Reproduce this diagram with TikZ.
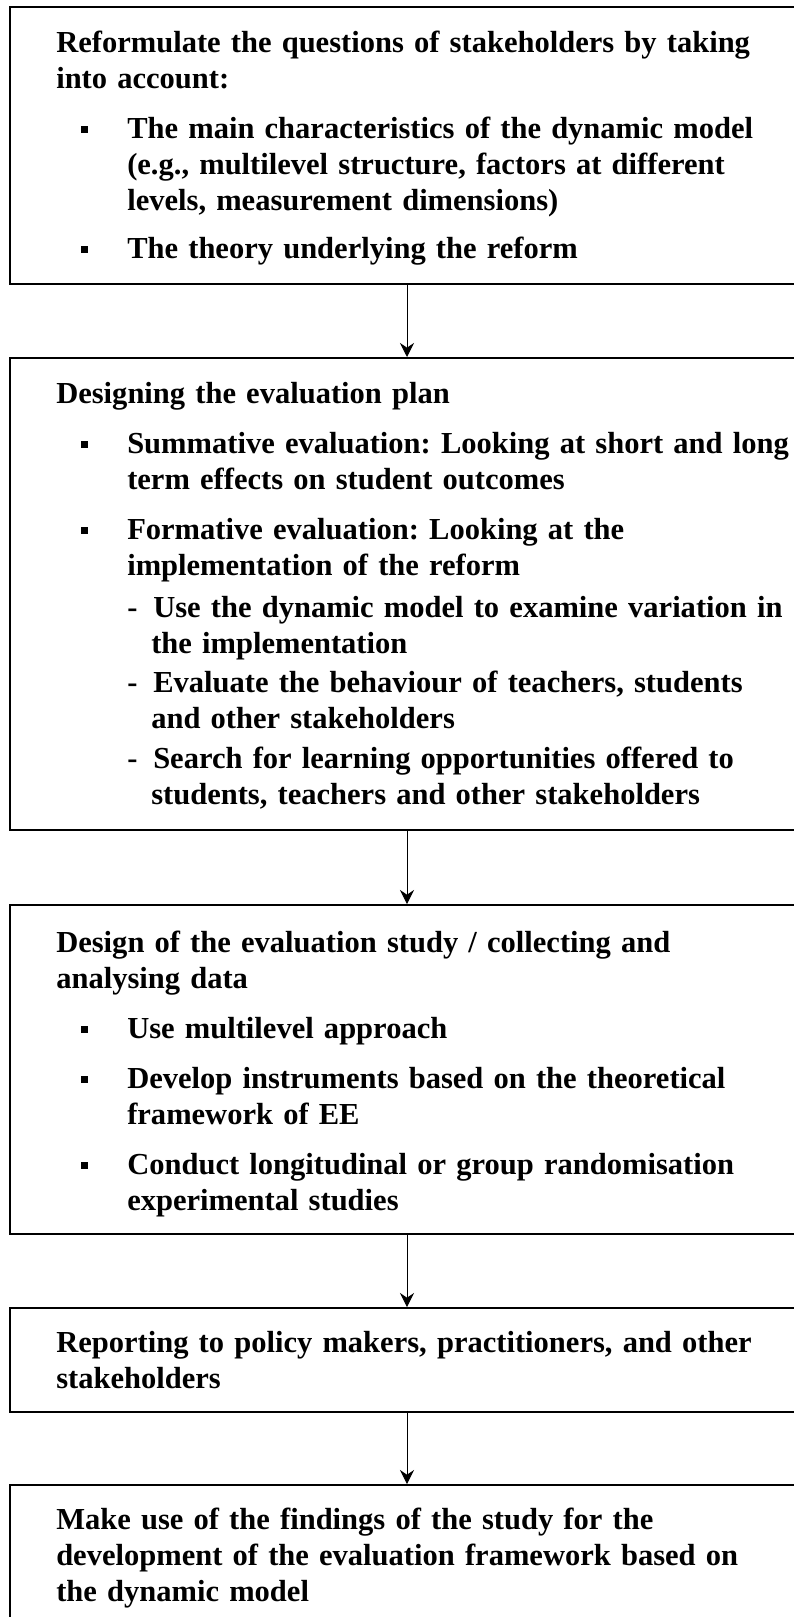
\documentclass[tikz,border=0pt]{standalone}
\usepackage{fontspec}
\setmainfont{Liberation Serif}
\usetikzlibrary{arrows.meta}

% list marks: square bullet and dash, with their hanging indents
\newcommand{\sqbul}{\makebox[53.25pt][l]{\hspace*{18.75pt}\rule[3.75pt]{5.25pt}{5.25pt}}}
\newcommand{\sqind}{\hspace*{53.25pt}}
\newcommand{\subdash}{\makebox[72.75pt][l]{\hspace*{53.25pt}-}}
\newcommand{\subind}{\hspace*{71.25pt}}

\begin{document}
\frenchspacing
\begin{tikzpicture}[x=0.75pt,y=-0.75pt,
    box/.style={draw,line width=1.5pt,anchor=north west,minimum width=595.5pt,inner sep=0pt},
    txt/.style={anchor=base west,inner sep=0pt,text width=580pt,align=left,
      font=\fontsize{22.9}{27}\selectfont\bfseries},
    arr/.style={-{Stealth[length=10.5pt,width=10.5pt,inset=3.5pt]},line width=0.75pt}]
  \useasboundingbox (0,0) rectangle (793,1617);

  % the five steps
  \node[box,minimum height=207.75pt] (quest) at (9,6) {};
  \node[box,minimum height=354pt] (plan) at (9,357) {};
  \node[box,minimum height=246.75pt] (study) at (9,904) {};
  \node[box,minimum height=78pt] (report) at (9,1307) {};
  \node[box,minimum height=120pt] (use) at (9,1484) {};

  \node[txt] (questtxt) at (56,52) {Reformulate the questions of stakeholders by taking\\
    into account:\\[10.5pt]
    \sqbul The main characteristics of the dynamic model\\
    \sqind (e.g., multilevel structure, factors at different\\
    \sqind levels, measurement dimensions)\\[9pt]
    \sqbul The theory underlying the reform};

  \node[txt] (plantxt) at (56,403) {Designing the evaluation plan\\[10.5pt]
    \sqbul Summative evaluation: Looking at short and long\\
    \sqind term effects on student outcomes\\[10.5pt]
    \sqbul Formative evaluation: Looking at the\\
    \sqind implementation of the reform\\[4.5pt]
    \subdash Use the dynamic model to examine variation in\\
    \subind the implementation\\[2.25pt]
    \subdash Evaluate the behaviour of teachers, students\\
    \subind and other stakeholders\\[3pt]
    \subdash Search for learning opportunities offered to\\
    \subind students, teachers and other stakeholders};

  \node[txt] (studytxt) at (56,952) {Design of the evaluation study / collecting and\\
    analysing data\\[10.5pt]
    \sqbul Use multilevel approach\\[10.5pt]
    \sqbul Develop instruments based on the theoretical\\
    \sqind framework of EE\\[10.5pt]
    \sqbul Conduct longitudinal or group randomisation\\
    \sqind experimental studies};

  \node[txt] (reporttxt) at (56,1352) {Reporting to policy makers, practitioners, and other\\
    stakeholders};

  \node[txt] (usetxt) at (56,1529) {Make use of the findings of the study for the\\
    development of the evaluation framework based on\\
    the dynamic model};

  % arrows between steps
  \draw[arr] (quest) -- (plan);
  \draw[arr] (plan) -- (study);
  \draw[arr] (study) -- (report);
  \draw[arr] (report) -- (use);
\end{tikzpicture}
\end{document}
